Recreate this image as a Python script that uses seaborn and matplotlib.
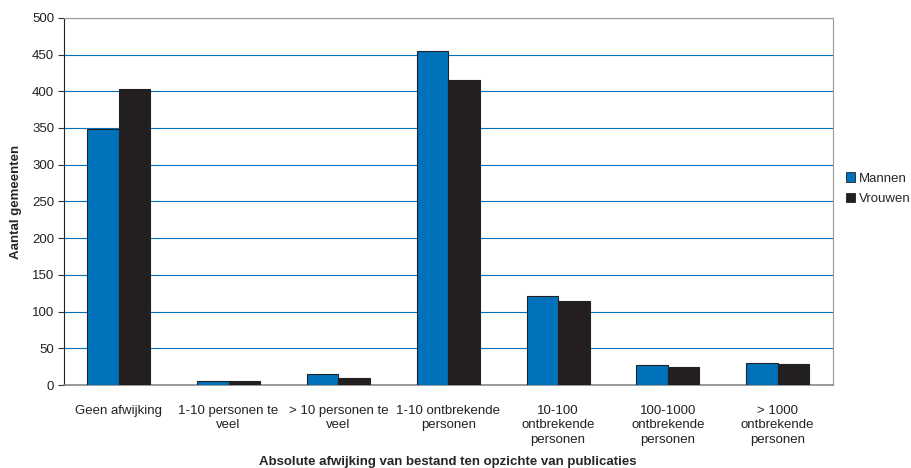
import matplotlib
matplotlib.use("Agg")
import matplotlib.pyplot as plt
import pandas as pd
import seaborn as sns

# Data
categories = [
    "Geen afwijking",
    "1-10 personen te\nveel",
    "> 10 personen te\nveel",
    "1-10 ontbrekende\npersonen",
    "10-100\nontbrekende\npersonen",
    "100-1000\nontbrekende\npersonen",
    "> 1000\nontbrekende\npersonen",
]
mannen = [349, 6, 15, 455, 121, 27, 30]
vrouwen = [403, 6, 10, 415, 115, 25, 29]

df = pd.DataFrame({
    "categorie": categories * 2,
    "aantal": mannen + vrouwen,
    "geslacht": ["Mannen"] * len(categories) + ["Vrouwen"] * len(categories),
})

sns.set_style("white")
plt.rcParams["font.family"] = ["Liberation Sans", "DejaVu Sans"]

fig, ax = plt.subplots(figsize=(9.12, 4.68), dpi=100)
fig.subplots_adjust(left=0.070, right=0.913, top=0.962, bottom=0.177)

sns.barplot(
    data=df, x="categorie", y="aantal", hue="geslacht",
    order=categories, hue_order=["Mannen", "Vrouwen"],
    palette={"Mannen": "#0072BC", "Vrouwen": "#231F20"},
    saturation=1, width=0.575, edgecolor="#222222", linewidth=0.8,
    errorbar=None, ax=ax, zorder=3,
)

ax.set_ylim(0, 500)
ax.set_xlim(-0.5, len(categories) - 0.5)
ax.set_yticks(range(0, 501, 50))
ax.yaxis.grid(True, color="#0072BC", linewidth=0.8, zorder=0)
ax.xaxis.grid(False)
ax.set_axisbelow(True)

# ticks between the categories
ax.set_xticks([i - 0.5 for i in range(len(categories) + 1)], minor=True)
ax.set_xticks(range(len(categories)))
ax.set_xticklabels(categories, fontsize=9.5, color="#222222", linespacing=1.3)
ax.tick_params(axis="x", which="major", length=0, pad=14)
ax.tick_params(axis="x", which="minor", length=4, width=0.8, color="#333333", direction="out")
ax.tick_params(axis="y", length=4, width=0.8, color="#333333", direction="out",
               labelsize=9.5, labelcolor="#222222", left=True, pad=3)

for side in ["top", "right"]:
    ax.spines[side].set_color("#999999")
    ax.spines[side].set_linewidth(0.8)
ax.spines["bottom"].set_color("#888888")
ax.spines["bottom"].set_linewidth(1.2)
ax.spines["left"].set_color("#222222")
ax.spines["left"].set_linewidth(0.8)

ax.set_xlabel("Absolute afwijking van bestand ten opzichte van publicaties",
              fontsize=9.5, fontweight="bold")
ax.xaxis.set_label_coords(0.5, -0.193)
ax.set_ylabel("Aantal gemeenten", fontsize=9.5, fontweight="bold", labelpad=7)

leg = ax.legend(loc="center left", bbox_to_anchor=(1.005, 0.535), frameon=False,
                fontsize=9.5, handlelength=0.7, handleheight=0.7, handletextpad=0.3,
                labelspacing=0.6, borderaxespad=0.3)
for h in leg.legend_handles:
    h.set_edgecolor("#222222")
    h.set_linewidth(0.6)

fig.savefig("out.png", dpi=100)
